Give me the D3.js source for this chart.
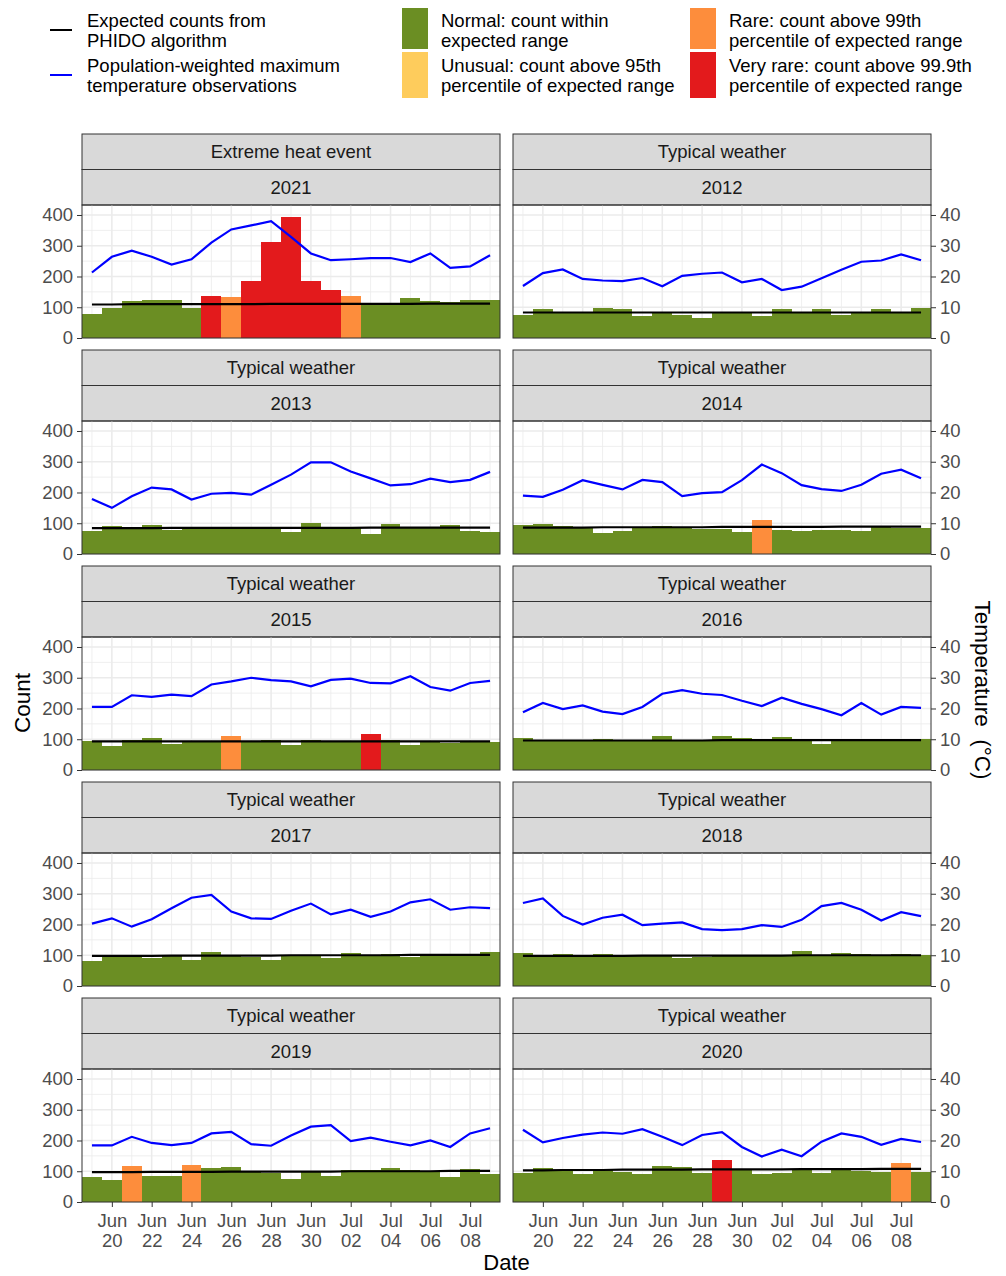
<!DOCTYPE html>
<html>
<head>
<meta charset="utf-8">
<script src="https://cdn.jsdelivr.net/npm/d3@7"></script>
<style>
  body { margin: 0; background: #fff; }
  text { font-family: "Liberation Sans", Arial, sans-serif; }
</style>
</head>
<body>
<svg width="1006" height="1276"></svg>
<script>
// days shown in every panel (month-day), 19 June to 9 July
var days = ["06-19","06-20","06-21","06-22","06-23","06-24","06-25","06-26","06-27","06-28","06-29",
            "06-30","07-01","07-02","07-03","07-04","07-05","07-06","07-07","07-08","07-09"];
var tickDays = ["06-20","06-22","06-24","06-26","06-28","06-30","07-02","07-04","07-06","07-08"];

var groups = ["Extreme heat event","Typical weather","Typical weather","Typical weather","Typical weather",
              "Typical weather","Typical weather","Typical weather","Typical weather","Typical weather"];
var years = [2021, 2012, 2013, 2014, 2015, 2016, 2017, 2018, 2019, 2020];

// daily counts, one row per panel
var counts = [
  [77,98,120,125,122,99,138,132,186,313,392,186,155,135,110,110,129,120,116,122,124],
  [76,93,86,85,96,93,73,81,74,65,81,82,70,93,84,93,74,83,93,84,97],
  [74,90,84,95,77,82,84,84,82,84,70,101,86,86,66,97,88,88,95,75,72],
  [93,96,91,89,67,74,89,91,87,80,80,70,109,78,74,78,78,74,91,85,83],
  [95,78,97,103,85,90,92,110,95,97,80,97,95,93,118,98,80,95,88,93,92],
  [105,93,97,98,100,98,95,110,95,93,110,103,98,107,93,85,100,97,98,97,100],
  [80,95,97,90,97,85,112,100,95,85,97,98,90,107,100,103,95,98,100,102,112],
  [108,97,103,100,105,97,100,98,90,95,97,100,98,100,113,102,108,103,100,103,100],
  [81,71,118,85,83,120,111,114,96,95,76,99,86,105,103,111,103,100,80,106,90],
  [95,111,105,92,103,97,91,116,114,95,135,103,91,95,103,95,104,102,99,126,99]
];

// expected counts (PHIDO)
var expected = [
  [109,109,110,110,110,110,110,110,110,111,111,111,111,111,111,111,111,112,112,112,112],
  [83,83,83,83,83,83,83,83,83,83,83,83,83,83,83,83,83,83,83,83,83],
  [84,84,84,84,85,85,85,85,85,85,85,85,85,85,86,86,86,86,86,86,86],
  [86,86,86,86,87,87,87,87,87,87,88,88,88,88,88,88,89,89,89,89,89],
  [93,93,93,93,93,93,93,93,93,93,93,93,93,93,93,93,93,93,93,93,93],
  [96,96,96,96,96,96,96,96,96,96,97,97,97,97,97,97,97,97,97,97,97],
  [98,98,98,98,99,99,99,99,99,99,100,100,100,100,100,100,101,101,101,101,101],
  [98,98,98,98,98,98,99,99,99,99,99,99,99,99,100,100,100,100,100,100,100],
  [97,97,97,98,98,98,98,99,99,99,99,99,99,100,100,100,100,100,101,101,101],
  [103,103,104,104,104,105,105,105,105,106,106,106,106,106,107,107,107,107,108,108,108]
];

// population-weighted maximum temperature (°C)
var temps = [
  [21.3,26.4,28.4,26.4,23.9,25.6,31.0,35.3,36.6,38.0,32.9,27.5,25.3,25.6,26.0,26.0,24.7,27.5,22.8,23.3,26.9],
  [16.9,21.1,22.3,19.2,18.7,18.5,19.5,16.8,20.2,20.9,21.3,18.1,19.2,15.6,16.7,19.4,22.2,24.8,25.2,27.2,25.3],
  [17.9,15.0,18.8,21.6,21.0,17.7,19.6,19.9,19.3,22.5,25.8,29.8,29.8,26.8,24.6,22.3,22.7,24.5,23.4,24.1,26.7],
  [19.0,18.6,20.9,24.0,22.5,21.0,24.1,23.4,18.8,19.8,20.1,24.0,29.1,26.3,22.4,21.1,20.5,22.5,26.1,27.4,24.6],
  [20.5,20.5,24.3,23.8,24.5,24.0,27.8,28.8,30.0,29.2,28.8,27.2,29.3,29.7,28.3,28.2,30.5,27.0,25.8,28.3,29.0],
  [18.8,21.8,19.8,21.0,19.0,18.2,20.5,24.8,26.0,24.8,24.4,22.5,20.8,23.5,21.5,19.8,17.8,21.8,18.0,20.5,20.2],
  [20.3,22.0,19.3,21.7,25.3,28.7,29.6,24.2,22.0,21.8,24.5,26.8,23.3,24.8,22.5,24.2,27.2,28.2,24.8,25.6,25.3],
  [27.0,28.5,22.8,20.0,22.2,23.2,19.8,20.3,20.7,18.5,18.2,18.5,19.8,19.2,21.5,26.0,27.0,24.8,21.3,24.0,22.7],
  [18.4,18.4,21.2,19.2,18.5,19.2,22.3,22.8,18.8,18.3,21.6,24.5,25.0,19.8,20.9,19.6,18.4,20.0,17.9,22.3,24.0],
  [23.5,19.4,20.8,21.9,22.6,22.2,23.7,21.2,18.5,21.8,22.7,17.9,14.8,17.0,14.9,19.6,22.3,21.2,18.6,20.5,19.5]
];

// alarm level per day: N normal, U unusual, R rare, V very rare
var alarms = [
  "NNNNNNVRVVVVVRNNNNNNN",
  "NNNNNNNNNNNNNNNNNNNNN",
  "NNNNNNNNNNNNNNNNNNNNN",
  "NNNNNNNNNNNNRNNNNNNNN",
  "NNNNNNNRNNNNNNVNNNNNN",
  "NNNNNNNNNNNNNNNNNNNNN",
  "NNNNNNNNNNNNNNNNNNNNN",
  "NNNNNNNNNNNNNNNNNNNNN",
  "NNRNNRNNNNNNNNNNNNNNN",
  "NNNNNNNNNNVNNNNNNNNRN"
];

var alarmColors = { N: "#6b8e23", U: "#fecc5c", R: "#fd8d3c", V: "#e31a1c" };
var legendLines = [
  { color: "#000", text: ["Expected counts from", "PHIDO algorithm"] },
  { color: "#0000ff", text: ["Population-weighted maximum", "temperature observations"] }
];
var legendFills = [
  { key: "N", text: ["Normal: count within", "expected range"] },
  { key: "U", text: ["Unusual: count above 95th", "percentile of expected range"] },
  { key: "R", text: ["Rare: count above 99th", "percentile of expected range"] },
  { key: "V", text: ["Very rare: count above 99.9th", "percentile of expected range"] }
];

var fs = 18.5; // base text size
var svg = d3.select("svg");
var parse = d3.timeParse("%Y-%m-%d");
var toDate = function(md) { return parse("2000-" + md); };
var halfDay = 12 * 3600 * 1000;

var colX = [82, 513], panelW = 418;
var rowTop = 134, rowStep = 216, stripH = 35.5, plotH = 133;

var y = d3.scaleLinear().domain([0, 432.5]);

// ---- legend ----
var lg = svg.append("g").attr("font-size", fs);
legendLines.forEach(function(d, i) {
  var cy = 30 + i * 45;
  lg.append("line").attr("x1", 50).attr("x2", 72).attr("y1", cy).attr("y2", cy)
    .attr("stroke", d.color).attr("stroke-width", 2);
  d.text.forEach(function(t, j) {
    lg.append("text").attr("x", 87).attr("y", cy - 3.5 + j * 20).text(t);
  });
});
legendFills.forEach(function(d, i) {
  var x0 = i < 2 ? 402 : 690, row = i % 2;
  var top = row === 0 ? 8 : 52;
  lg.append("rect").attr("x", x0).attr("y", top).attr("width", 26).attr("height", row === 0 ? 41 : 46)
    .attr("fill", alarmColors[d.key]);
  var cy = row === 0 ? 30 : 75;
  d.text.forEach(function(t, j) {
    lg.append("text").attr("x", x0 + 39).attr("y", cy - 3.5 + j * 20).text(t);
  });
});

// ---- panels ----
years.forEach(function(year, p) {
  var col = p % 2, row = Math.floor(p / 2);
  var x0 = colX[col];
  var top = rowTop + row * rowStep;
  var pTop = top + 2 * stripH, pBot = pTop + plotH;

  var x = d3.scaleTime()
    .domain([new Date(toDate(days[0]) - halfDay), new Date(+toDate(days[days.length - 1]) + halfDay)])
    .range([x0, x0 + panelW]);
  var yy = y.copy().range([pBot, pTop]);

  var g = svg.append("g");

  // strips
  [groups[p], String(year)].forEach(function(lab, k) {
    g.append("rect").attr("x", x0).attr("y", top + k * stripH).attr("width", panelW).attr("height", stripH)
      .attr("fill", "#d9d9d9").attr("stroke", "#333").attr("stroke-width", 1);
    g.append("text").attr("x", x0 + panelW / 2).attr("y", top + k * stripH + stripH / 2 + 6.5)
      .attr("text-anchor", "middle").attr("font-size", fs).attr("fill", "#1a1a1a").text(lab);
  });

  // grid
  var grid = g.append("g").attr("stroke", "#ebebeb");
  [50, 150, 250, 350].forEach(function(v) {
    grid.append("line").attr("x1", x0).attr("x2", x0 + panelW).attr("y1", yy(v)).attr("y2", yy(v)).attr("stroke-width", 0.8);
  });
  [0, 100, 200, 300, 400].forEach(function(v) {
    grid.append("line").attr("x1", x0).attr("x2", x0 + panelW).attr("y1", yy(v)).attr("y2", yy(v)).attr("stroke-width", 1.6);
  });
  days.forEach(function(d) {
    var major = tickDays.indexOf(d) >= 0;
    grid.append("line").attr("x1", x(toDate(d))).attr("x2", x(toDate(d))).attr("y1", pTop).attr("y2", pBot)
      .attr("stroke-width", major ? 1.6 : 0.8);
  });

  // bars
  g.selectAll(".bar").data(days).enter().append("rect")
    .attr("x", function(d) { return x(new Date(toDate(d) - halfDay)); })
    .attr("width", function(d) { return x(new Date(+toDate(d) + halfDay)) - x(new Date(toDate(d) - halfDay)); })
    .attr("y", function(d, i) { return yy(counts[p][i]); })
    .attr("height", function(d, i) { return pBot - yy(counts[p][i]); })
    .attr("fill", function(d, i) { return alarmColors[alarms[p][i]]; })
    .attr("shape-rendering", "crispEdges");

  // expected line
  g.append("path").datum(days)
    .attr("d", d3.line().x(function(d) { return x(toDate(d)); }).y(function(d, i) { return yy(expected[p][i]); }))
    .attr("fill", "none").attr("stroke", "#000").attr("stroke-width", 2.2);

  // temperature line (secondary axis = count / 10)
  g.append("path").datum(days)
    .attr("d", d3.line().x(function(d) { return x(toDate(d)); }).y(function(d, i) { return yy(temps[p][i] * 10); }))
    .attr("fill", "none").attr("stroke", "#0000ff").attr("stroke-width", 2.2);

  // border
  g.append("rect").attr("x", x0).attr("y", pTop).attr("width", panelW).attr("height", plotH)
    .attr("fill", "none").attr("stroke", "#333").attr("stroke-width", 1);

  // y axis
  if (col === 0) {
    var ay = g.append("g").attr("transform", "translate(" + x0 + ",0)")
      .call(d3.axisLeft(yy).tickValues([0, 100, 200, 300, 400]).tickSize(5).tickPadding(4));
    styleAxis(ay);
  } else {
    var t = d3.scaleLinear().domain([0, 43.25]).range([pBot, pTop]);
    var ar = g.append("g").attr("transform", "translate(" + (x0 + panelW) + ",0)")
      .call(d3.axisRight(t).tickValues([0, 10, 20, 30, 40]).tickSize(5).tickPadding(4));
    styleAxis(ar);
  }

  // x axis on bottom row
  if (row === 4) {
    var ax = g.append("g").attr("transform", "translate(0," + pBot + ")")
      .call(d3.axisBottom(x).tickValues(tickDays.map(toDate)).tickSize(5).tickFormat(""));
    styleAxis(ax);
    ax.selectAll(".tick").append("text").attr("text-anchor", "middle").attr("fill", "#4d4d4d")
      .attr("font-size", fs)
      .each(function(d) {
        var s = d3.select(this);
        s.append("tspan").attr("x", 0).attr("y", 25).text(d3.timeFormat("%b")(d));
        s.append("tspan").attr("x", 0).attr("y", 45).text(d3.timeFormat("%d")(d));
      });
  }
});

function styleAxis(a) {
  a.select(".domain").remove();
  a.selectAll(".tick line").attr("stroke", "#333").attr("stroke-width", 1);
  a.selectAll(".tick text").attr("fill", "#4d4d4d").attr("font-size", fs)
    .attr("font-family", "'Liberation Sans', Arial, sans-serif");
}

// axis titles
svg.append("text").attr("x", 506.5).attr("y", 1270).attr("text-anchor", "middle").attr("font-size", 22).text("Date");
svg.append("text").attr("transform", "translate(30,703) rotate(-90)").attr("text-anchor", "middle")
  .attr("font-size", 22.5).text("Count");
svg.append("text").attr("transform", "translate(975,690) rotate(90)").attr("text-anchor", "middle")
  .attr("font-size", 22.5).text("Temperature\u00a0 (°C)");
</script>
</body>
</html>
